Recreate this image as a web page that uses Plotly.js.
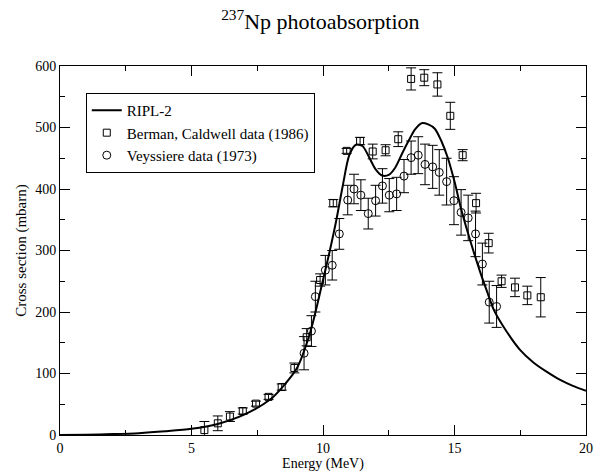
<!DOCTYPE html>
<html>
<head>
<meta charset="utf-8">
<script src="https://cdn.plot.ly/plotly-3.0.1.min.js"></script>
<style>html,body{margin:0;padding:0;background:#fff;}#chart{width:606px;height:472px;}</style>
</head>
<body>
<div id="chart"></div>
<script>
// RIPL-2 curve
const riplE = [0,1,2,3,4,5,6,7,8,8.5,9,9.5,10,10.25,10.5,10.75,11,11.25,11.5,11.75,12,12.25,12.5,12.75,13,13.25,13.5,13.75,14,14.25,14.5,14.75,15,15.25,15.5,15.75,16,16.25,16.5,17,17.5,18,18.5,19,19.5,20];
const riplXS = [0,0.5,1.5,3,6,10,18,33,58,80,108,165,252,298,348,405,455,472,470,452,432,422,423,435,457,478,497,507,505,498,478,450,412,368,330,295,262,232,203,167,138,118,103,90,80,72];

// Berman, Caldwell data (1986)
const bermanE = [5.49,6.0,6.46,6.95,7.45,7.93,8.43,8.91,9.38,9.89,10.39,10.9,11.41,11.89,12.38,12.86,13.35,13.85,14.35,14.84,15.31,15.82,16.3,16.79,17.3,17.77,18.28];
const bermanXS = [8,19,30,39,51,62,78,109,159,252,377,462,478,461,463,481,579,581,570,519,455,377,312,250,240,227,224];
const bermanErr = [14,12,8,5,4,4,5,8,14,10,6,4,6,12,9,12,18,13,19,22,9,16,16,10,15,15,32];

// Veyssiere data (1973)
const veyE = [9.28,9.56,9.71,10.09,10.35,10.62,10.94,11.18,11.44,11.72,12.0,12.26,12.52,12.8,13.08,13.35,13.62,13.88,14.17,14.42,14.7,14.98,15.25,15.52,15.8,16.06,16.32,16.6];
const veyXS = [133,169,225,268,276,327,382,400,390,360,381,405,390,392,421,451,455,440,436,427,412,381,362,353,327,278,216,209];
const veyErr = [27,25,25,24,24,25,24,24,25,25,25,28,27,27,27,27,30,33,35,37,38,39,37,37,37,34,34,34];

const FONT = 'Liberation Serif, Times New Roman, serif';

const traces = [
  {x: riplE, y: riplXS, mode: 'lines', name: 'RIPL-2', line: {color: '#000', width: 2, shape: 'spline', smoothing: 0.8}},
  {x: bermanE, y: bermanXS, mode: 'markers', name: 'Berman, Caldwell data (1986)',
   marker: {symbol: 'square-open', size: 7, color: '#000', line: {width: 1, color: '#000'}},
   error_y: {type: 'data', array: bermanErr, visible: true, color: '#000', thickness: 1, width: 5}},
  {x: veyE, y: veyXS, mode: 'markers', name: 'Veyssiere data (1973)',
   marker: {symbol: 'circle-open', size: 8, color: '#000', line: {width: 1, color: '#000'}},
   error_y: {type: 'data', array: veyErr, visible: true, color: '#000', thickness: 1, width: 5}}
];

const axisCommon = {
  showgrid: false, zeroline: false, showline: true, linecolor: '#000', linewidth: 1,
  mirror: 'allticks', ticks: 'inside', ticklen: 10, tickwidth: 1, tickcolor: '#000',
  tickfont: {family: FONT, size: 14, color: '#000'}
};

const layout = {
  width: 606, height: 472,
  margin: {l: 60, r: 20, t: 66, b: 37},
  paper_bgcolor: '#fff', plot_bgcolor: '#fff',
  font: {family: FONT, color: '#000', size: 14},
  title: {text: '<sup>237</sup>Np photoabsorption', font: {family: FONT, size: 22, color: '#000'},
          xref: 'paper', x: 0.495, xanchor: 'center', y: 0.955, yanchor: 'middle'},
  showlegend: true,
  legend: {x: 0.049, y: 0.927, xanchor: 'left', yanchor: 'top', bordercolor: '#000', borderwidth: 1,
           bgcolor: '#fff', font: {family: FONT, size: 15, color: '#000'}, itemwidth: 30},
  xaxis: Object.assign({}, axisCommon, {
    range: [0, 20], tickmode: 'linear', tick0: 0, dtick: 5,
    minor: {ticks: 'inside', ticklen: 5, dtick: 2.5, tickcolor: '#000', showgrid: false},
    title: {text: 'Energy (MeV)', font: {family: FONT, size: 14, color: '#000'}, standoff: 0}
  }),
  yaxis: Object.assign({}, axisCommon, {
    range: [0, 600], tickmode: 'linear', tick0: 0, dtick: 100,
    minor: {ticks: 'inside', ticklen: 5, dtick: 50, tickcolor: '#000', showgrid: false},
    title: {text: 'Cross section (mbarn)', font: {family: FONT, size: 15, color: '#000'}, standoff: 4}
  })
};

Plotly.newPlot('chart', traces, layout, {displayModeBar: false, staticPlot: true});
</script>
</body>
</html>
